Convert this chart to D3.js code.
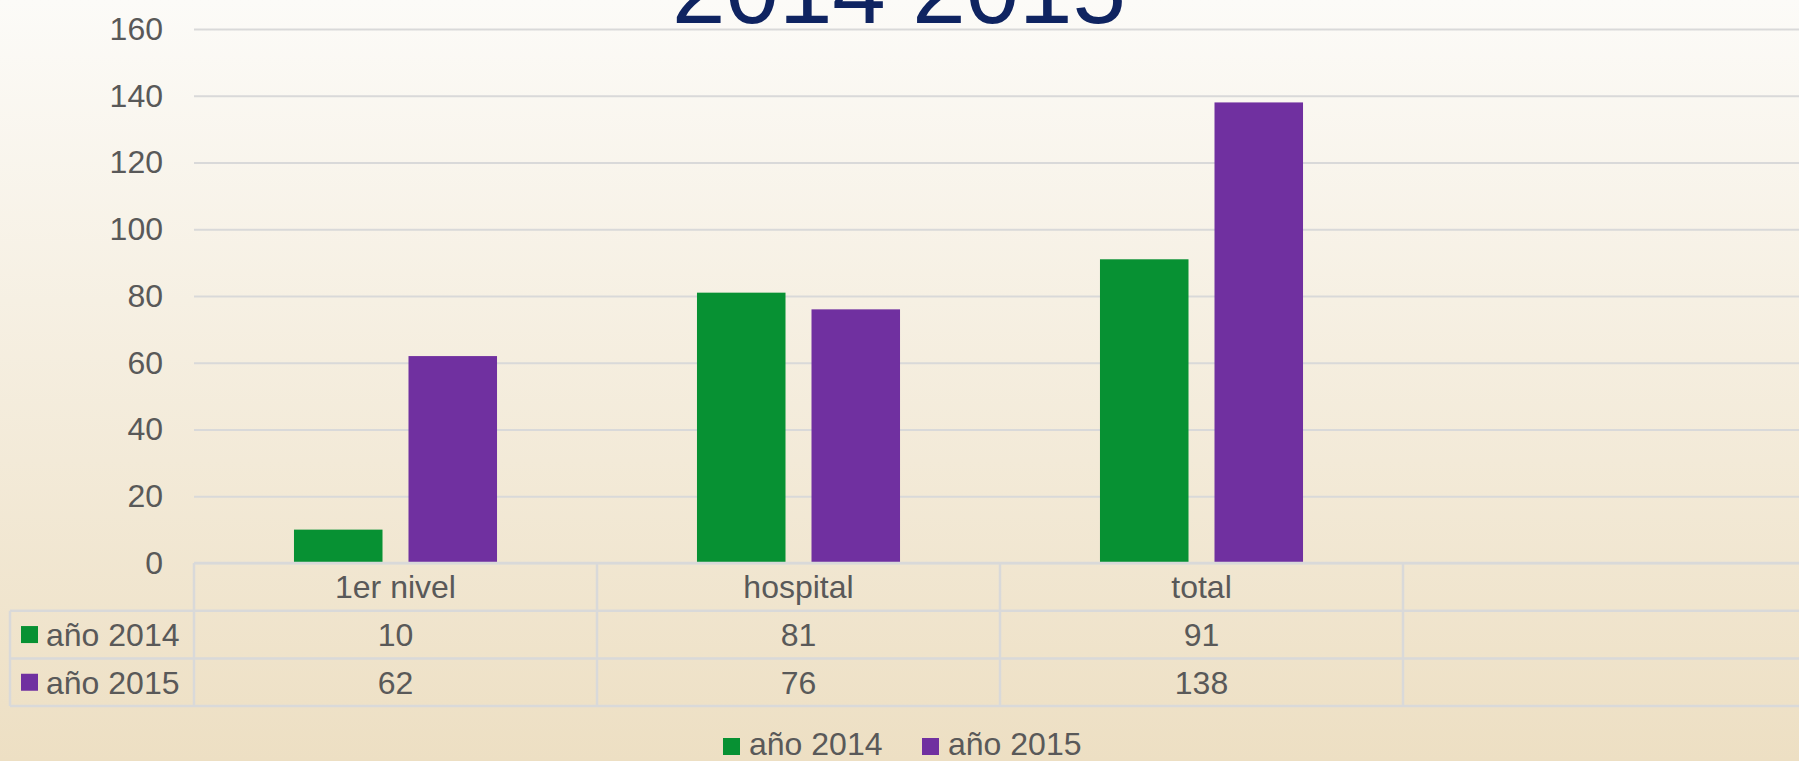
<!DOCTYPE html>
<html>
<head>
  <meta charset="utf-8">
  <title>año 2014 / año 2015</title>
  <script src="https://d3js.org/d3.v7.min.js"></script>
  <style>
    body { margin: 0; font-family: "Liberation Sans", Arial, sans-serif; }
    .lbl { fill: #595959; font-size: 32px; }
    .grid line { stroke: #d9d9d9; stroke-width: 2; }
    .tbl line { stroke: #d9d9d9; stroke-width: 2.5; }
    .title { fill: #0f2461; font-size: 96px; text-anchor: middle; }
  </style>
</head>
<body>
  <div id="chart"></div>
  <script>
    // data
    const categories = ["1er nivel", "hospital", "total"];
    const seriesNames = ["año 2014", "año 2015"];
    const values2014 = [10, 81, 91];
    const values2015 = [62, 76, 138];
    const yTicks = [0, 20, 40, 60, 80, 100, 120, 140, 160];
    const colors = ["#079133", "#7030a0"];

    const W = 1799, H = 761;
    const plot = {left: 194, right: 1806, top: 29, bottom: 563};
    const rowH = 47.7;

    const svg = d3.select("#chart").append("svg")
      .attr("width", W).attr("height", H);

    // background gradient
    const grad = svg.append("defs").append("linearGradient")
      .attr("id", "bg").attr("x1", 0).attr("y1", 0).attr("x2", 0).attr("y2", 1);
    grad.append("stop").attr("offset", "0%").attr("stop-color", "#fcfbf8");
    grad.append("stop").attr("offset", "100%").attr("stop-color", "#eddfc3");
    svg.append("rect").attr("width", W).attr("height", H).attr("fill", "url(#bg)");

    // scales
    const x = d3.scaleBand()
      .domain([...categories, ""])
      .range([plot.left, plot.right])
      .padding(0);

    const x1 = d3.scaleBand()
      .domain(seriesNames)
      .range([0, x.bandwidth()])
      .paddingInner(0.227)
      .paddingOuter(0.873);

    const y = d3.scaleLinear()
      .domain([0, 160])
      .range([plot.bottom, plot.top]);

    // title (first line sits above the picture, as in the original)
    svg.append("text")
      .attr("class", "title")
      .attr("x", 899)
      .attr("y", 23)
      .text("2014 2015");

    // gridlines and y labels
    const yAxis = d3.axisLeft(y)
      .tickValues(yTicks)
      .tickSize(-(W - plot.left))
      .tickPadding(31);
    const gy = svg.append("g")
      .attr("class", "grid")
      .attr("transform", `translate(${plot.left},0)`)
      .call(yAxis);
    gy.select(".domain").remove();
    gy.selectAll(".tick text")
      .attr("class", "lbl")
      .attr("fill", null)
      .style("font-size", "32px")
      .style("font-family", "\"Liberation Sans\", Arial, sans-serif");

    // bars
    const series = [values2014, values2015];
    const groups = svg.append("g").selectAll("g")
      .data(categories)
      .join("g")
        .attr("transform", d => `translate(${x(d)},0)`);

    groups.selectAll("rect")
      .data((c, i) => seriesNames.map((s, j) => ({s, j, v: series[j][i]})))
      .join("rect")
        .attr("x", d => x1(d.s))
        .attr("y", d => y(d.v))
        .attr("width", x1.bandwidth())
        .attr("height", d => y(0) - y(d.v))
        .attr("fill", d => colors[d.j]);

    // data table
    const tbl = svg.append("g").attr("class", "tbl");
    const rowsY = d3.range(4).map(i => plot.bottom + i * rowH);
    const tableLeft = 10;

    tbl.selectAll("line.h")
      .data(rowsY)
      .join("line")
        .attr("class", "h")
        .attr("x1", (d, i) => i === 0 ? plot.left : tableLeft)
        .attr("x2", W)
        .attr("y1", d => d).attr("y2", d => d);

    const colEdges = x.domain().map(d => x(d)).concat([plot.right]);
    tbl.selectAll("line.v")
      .data(colEdges)
      .join("line")
        .attr("class", "v")
        .attr("x1", d => d).attr("x2", d => d)
        .attr("y1", plot.bottom).attr("y2", rowsY[3]);

    tbl.append("line")
      .attr("x1", tableLeft).attr("x2", tableLeft)
      .attr("y1", rowsY[1]).attr("y2", rowsY[3]);

    // header row
    svg.append("g").selectAll("text")
      .data(categories)
      .join("text")
        .attr("class", "lbl")
        .attr("text-anchor", "middle")
        .attr("x", d => x(d) + x.bandwidth() / 2)
        .attr("y", rowsY[0] + rowH / 2)
        .attr("dy", "0.36em")
        .text(d => d);

    // value rows
    seriesNames.forEach((s, j) => {
      const ry = rowsY[j + 1] + rowH / 2;
      svg.append("rect")
        .attr("x", 21).attr("y", ry - 8.5)
        .attr("width", 17).attr("height", 17)
        .attr("fill", colors[j]);
      svg.append("text")
        .attr("class", "lbl")
        .attr("x", 46).attr("y", ry).attr("dy", "0.36em")
        .text(s);
      svg.append("g").selectAll("text")
        .data(categories)
        .join("text")
          .attr("class", "lbl")
          .attr("text-anchor", "middle")
          .attr("x", d => x(d) + x.bandwidth() / 2)
          .attr("y", ry).attr("dy", "0.36em")
          .text((d, i) => series[j][i]);
    });

    // bottom legend
    const legendX = [723, 922];
    const leg = svg.append("g").selectAll("g")
      .data(seriesNames)
      .join("g")
        .attr("transform", (d, i) => `translate(${legendX[i]},738)`);
    leg.append("rect")
      .attr("width", 17).attr("height", 17)
      .attr("fill", (d, i) => colors[i]);
    leg.append("text")
      .attr("class", "lbl")
      .attr("x", 26).attr("y", 17)
      .text(d => d);
  </script>
</body>
</html>
